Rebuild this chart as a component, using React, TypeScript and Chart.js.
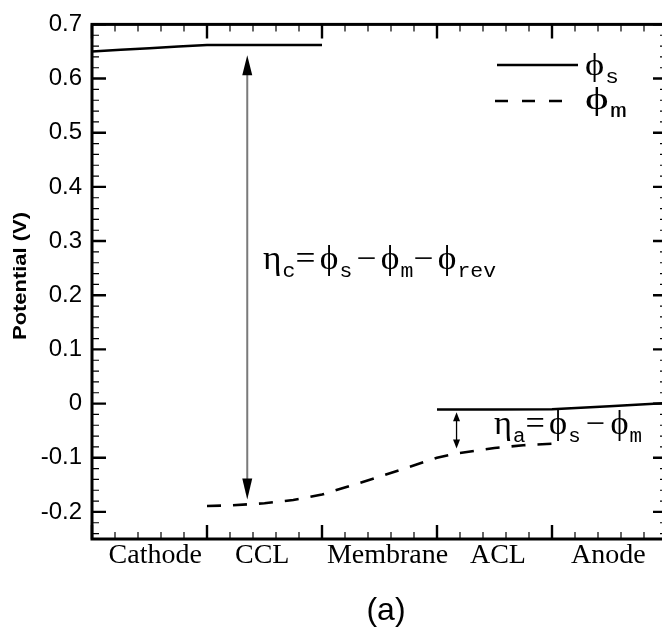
import { useEffect, useRef } from "react";
import { Chart, registerables } from "chart.js";

Chart.register(...registerables);

// ---- data ----
const regions = ["Cathode", "CCL", "Membrane", "ACL", "Anode"];
const regionLabelPos = [0.55, 1.48, 2.57, 3.53, 4.49];
const regionBounds = [0, 1, 2, 3, 4, 5];
const yTicks = [-0.2, -0.1, 0, 0.1, 0.2, 0.3, 0.4, 0.5, 0.6, 0.7];
const yTickLabels = ["-0.2", "-0.1", "0", "0.1", "0.2", "0.3", "0.4", "0.5", "0.6", "0.7"];

const phiSCathodeX = [0, 0.25, 0.5, 0.75, 1, 1.5, 2];
const phiSCathodeY = [0.65, 0.653, 0.656, 0.659, 0.662, 0.662, 0.662];

const phiSAnodeX = [3, 3.5, 4, 4.5, 5];
const phiSAnodeY = [-0.011, -0.011, -0.0105, -0.005, 0.001];

const phiMX = [1, 1.2, 1.5, 1.75, 2, 2.5, 3, 3.17, 3.5, 3.75, 4];
const phiMY = [-0.189, -0.188, -0.184, -0.178, -0.168, -0.135, -0.1, -0.092, -0.082, -0.077, -0.074];

const etaCArrowX = 1.35;
const etaCArrowY = [0.643, -0.177];
const etaAArrowX = 3.17;
const etaAArrowY = [-0.016, -0.083];

const SERIF = "'Liberation Serif', 'DejaVu Serif', serif";
const MONO = "'Liberation Mono', 'DejaVu Sans Mono', monospace";
const SANS = "'Liberation Sans', Arial, sans-serif";

type Part = { t: string; font: string; dy?: number; gap?: number };

function drawRich(ctx: CanvasRenderingContext2D, parts: Part[], x: number, y: number, targetW: number) {
  let w = 0;
  for (const p of parts) {
    ctx.font = p.font;
    w += ctx.measureText(p.t).width + (p.gap || 0);
  }
  const sx = targetW / w;
  ctx.save();
  ctx.translate(x, y);
  ctx.scale(sx, 1);
  ctx.textAlign = "left";
  ctx.textBaseline = "alphabetic";
  let cx = 0;
  for (const p of parts) {
    ctx.font = p.font;
    ctx.fillText(p.t, cx, p.dy || 0);
    cx += ctx.measureText(p.t).width + (p.gap || 0);
  }
  ctx.restore();
}

function arrowHead(ctx: CanvasRenderingContext2D, x: number, tipY: number, dir: number, len: number, half: number) {
  ctx.beginPath();
  ctx.moveTo(x, tipY);
  ctx.lineTo(x - half, tipY + dir * len);
  ctx.lineTo(x + half, tipY + dir * len);
  ctx.closePath();
  ctx.fill();
}

const framePlugin = {
  id: "frameAndNotes",
  afterDraw(chart: any) {
    const ctx: CanvasRenderingContext2D = chart.ctx;
    const xs = chart.scales.x;
    const ys = chart.scales.y;
    const a = chart.chartArea;
    ctx.save();
    ctx.strokeStyle = "#000";
    ctx.fillStyle = "#000";

    // x ticks (top & bottom, inward)
    for (let i = 0; i < regionBounds.length - 1; i++) {
      for (let k = 1; k < 5; k++) {
        const px = xs.getPixelForValue(regionBounds[i] + k * 0.2);
        ctx.lineWidth = 1.2;
        ctx.beginPath();
        ctx.moveTo(px, a.bottom);
        ctx.lineTo(px, a.bottom - 7);
        ctx.moveTo(px, a.top);
        ctx.lineTo(px, a.top + 7);
        ctx.stroke();
      }
    }
    for (const v of regionBounds) {
      const px = xs.getPixelForValue(v);
      ctx.lineWidth = 2.4;
      ctx.beginPath();
      ctx.moveTo(px, a.bottom);
      ctx.lineTo(px, a.bottom - 14);
      ctx.moveTo(px, a.top);
      ctx.lineTo(px, a.top + 14);
      ctx.stroke();
    }
    // y ticks (left & right, inward)
    for (let i = -12; i <= 35; i++) {
      const v = i * 0.02;
      if (v < -0.25 || v > 0.7001) continue;
      const py = ys.getPixelForValue(v);
      const major = i % 5 === 0;
      const len = major ? 14 : 7;
      ctx.lineWidth = major ? 2.4 : 1.2;
      ctx.beginPath();
      ctx.moveTo(a.left, py);
      ctx.lineTo(a.left + len, py);
      ctx.moveTo(a.right, py);
      ctx.lineTo(a.right - len, py);
      ctx.stroke();
    }
    // frame
    ctx.lineWidth = 3;
    ctx.strokeRect(a.left, a.top, a.right - a.left, a.bottom - a.top);

    // eta_c arrow
    const cx = xs.getPixelForValue(etaCArrowX);
    const cTop = ys.getPixelForValue(etaCArrowY[0]);
    const cBot = ys.getPixelForValue(etaCArrowY[1]);
    ctx.strokeStyle = "#7a7a7a";
    ctx.lineWidth = 2;
    ctx.beginPath();
    ctx.moveTo(cx, cTop + 10);
    ctx.lineTo(cx, cBot - 10);
    ctx.stroke();
    ctx.fillStyle = "#000";
    arrowHead(ctx, cx, cTop, 1, 20, 5);
    arrowHead(ctx, cx, cBot, -1, 21, 5);

    // eta_a arrow
    const ax = xs.getPixelForValue(etaAArrowX);
    const aTop = ys.getPixelForValue(etaAArrowY[0]);
    const aBot = ys.getPixelForValue(etaAArrowY[1]);
    ctx.strokeStyle = "#000";
    ctx.lineWidth = 1.3;
    ctx.beginPath();
    ctx.moveTo(ax, aTop + 4);
    ctx.lineTo(ax, aBot - 4);
    ctx.stroke();
    arrowHead(ctx, ax, aTop, 1, 9, 3.5);
    arrowHead(ctx, ax, aBot, -1, 9, 3.5);

    // legend
    ctx.strokeStyle = "#000";
    ctx.lineWidth = 2.5;
    ctx.beginPath();
    ctx.moveTo(497, 65);
    ctx.lineTo(578, 65);
    ctx.stroke();
    ctx.setLineDash([13, 14]);
    ctx.beginPath();
    ctx.moveTo(495, 101);
    ctx.lineTo(564, 101);
    ctx.stroke();
    ctx.setLineDash([]);

    const big = `32px ${SERIF}`;
    const sub = `20px ${MONO}`;
    ctx.fillStyle = "#000";
    drawRich(ctx, [{ t: "\u03D5", font: big, gap: 1 }, { t: "s", font: sub, dy: 8 }], 585, 75, 34);
    drawRich(ctx, [{ t: "\u03D5", font: big, gap: 1 }, { t: "m", font: sub, dy: 8 }], 585, 109, 42);

    // eta_c formula
    const fb = `33px ${SERIF}`;
    const fs = `20px ${MONO}`;
    drawRich(
      ctx,
      [
        { t: "\u03B7", font: fb, gap: 1 },
        { t: "c", font: fs, dy: 8 },
        { t: "=", font: fb, gap: 4 },
        { t: "\u03D5", font: fb, gap: 1 },
        { t: "s", font: fs, dy: 8, gap: 4 },
        { t: "\u2212", font: fb, gap: 4 },
        { t: "\u03D5", font: fb, gap: 1 },
        { t: "m", font: fs, dy: 8 },
        { t: "\u2212", font: fb, gap: 4 },
        { t: "\u03D5", font: fb, gap: 1 },
        { t: "rev", font: fs, dy: 8 },
      ],
      263,
      269,
      233
    );
    // eta_a formula
    drawRich(
      ctx,
      [
        { t: "\u03B7", font: fb, gap: 1 },
        { t: "a", font: fs, dy: 8 },
        { t: "=", font: fb, gap: 4 },
        { t: "\u03D5", font: fb, gap: 1 },
        { t: "s", font: fs, dy: 8, gap: 5 },
        { t: "\u2212", font: fb, gap: 5 },
        { t: "\u03D5", font: fb, gap: 1 },
        { t: "m", font: fs, dy: 8 },
      ],
      494,
      434,
      148
    );

    // y axis title
    ctx.save();
    ctx.translate(26, 276);
    ctx.rotate(-Math.PI / 2);
    ctx.font = `bold 18px ${SANS}`;
    const tw = ctx.measureText("Potential (V)").width;
    ctx.scale(128 / tw, 1);
    ctx.textAlign = "center";
    ctx.textBaseline = "alphabetic";
    ctx.fillText("Potential (V)", 0, 0);
    ctx.restore();

    // (a)
    ctx.font = `32px ${SANS}`;
    ctx.textAlign = "center";
    ctx.textBaseline = "alphabetic";
    ctx.fillText("(a)", 386, 620);

    ctx.restore();
  },
};

export default function App() {
  const ref = useRef<HTMLCanvasElement>(null);
  useEffect(() => {
    const canvas = ref.current!;
    const chart = new Chart(canvas, {
      type: "scatter",
      data: {
        datasets: [
          {
            label: "phi_s cathode",
            data: phiSCathodeX.map((x, i) => ({ x, y: phiSCathodeY[i] })),
            showLine: true,
            borderColor: "#000",
            borderWidth: 2.5,
            pointRadius: 0,
            fill: false,
          },
          {
            label: "phi_s anode",
            data: phiSAnodeX.map((x, i) => ({ x, y: phiSAnodeY[i] })),
            showLine: true,
            borderColor: "#000",
            borderWidth: 2.5,
            pointRadius: 0,
            fill: false,
          },
          {
            label: "phi_m",
            data: phiMX.map((x, i) => ({ x, y: phiMY[i] })),
            showLine: true,
            borderColor: "#000",
            borderWidth: 2.6,
            borderDash: [14, 12],
            pointRadius: 0,
            fill: false,
          },
        ],
      },
      options: {
        responsive: false,
        animation: false,
        devicePixelRatio: 1,
        layout: { padding: { left: 0, right: 13, top: 15, bottom: 0 } },
        plugins: { legend: { display: false }, tooltip: { enabled: false } },
        scales: {
          x: {
            type: "linear",
            min: 0,
            max: 5,
            grid: { display: false, drawTicks: false },
            border: { display: false },
            afterBuildTicks: (scale: any) => {
              scale.ticks = regionLabelPos.map((v) => ({ value: v }));
            },
            afterFit: (scale: any) => {
              scale.height = 95;
            },
            ticks: {
              autoSkip: false,
              maxRotation: 0,
              padding: 0,
              color: "#000",
              font: { family: SERIF, size: 28 },
              callback: (_v: any, i: number) => regions[i],
            },
          },
          y: {
            type: "linear",
            min: -0.25,
            max: 0.7,
            grid: { display: false, drawTicks: false },
            border: { display: false },
            afterBuildTicks: (scale: any) => {
              scale.ticks = yTicks.map((v) => ({ value: v }));
            },
            afterFit: (scale: any) => {
              scale.width = 92;
            },
            ticks: {
              autoSkip: false,
              padding: 10,
              color: "#000",
              font: { family: SANS, size: 24 },
              callback: (_v: any, i: number) => yTickLabels[i],
            },
          },
        },
      },
      plugins: [framePlugin],
    } as any);
    return () => chart.destroy();
  }, []);
  return (
    <div
      style={{
        position: "fixed",
        left: 0,
        top: 0,
        width: 662,
        height: 634,
        overflow: "hidden",
        background: "#fff",
      }}
    >
      <canvas ref={ref} width={680} height={634} style={{ display: "block", width: 680, height: 634 }} />
    </div>
  );
}
